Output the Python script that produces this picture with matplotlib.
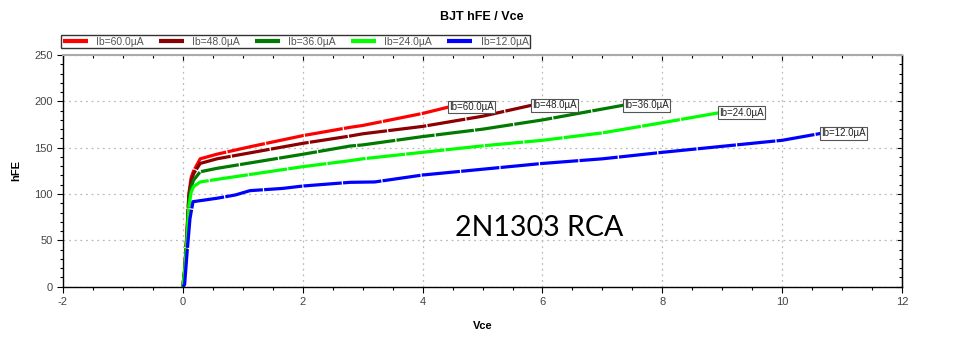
import matplotlib.pyplot as plt
from matplotlib.ticker import MultipleLocator

# Data (Vce in V, hFE)
vce_60 = [0, 0.03, 0.07, 0.1, 0.14, 0.18, 0.29, 0.57, 1.12, 2.0, 2.79, 3.0, 4.0, 4.44]
hfe_60 = [0, 18, 60, 100, 118, 125, 138, 143, 151, 163, 172, 174, 187, 194]

vce_48 = [0, 0.03, 0.07, 0.1, 0.14, 0.18, 0.29, 0.57, 2.0, 2.79, 3.0, 4.0, 5.0, 5.83]
hfe_48 = [0, 17, 58, 97, 114, 122, 133, 138, 154.7, 162.6, 165, 173, 184, 196]

vce_36 = [0, 0.03, 0.07, 0.1, 0.14, 0.18, 0.29, 0.57, 2.0, 2.79, 3.0, 4.0, 5.0, 6.0, 7.36]
hfe_36 = [0, 17, 55, 92, 108, 115, 124, 127.7, 142.9, 151.8, 153, 162, 170, 180, 196]

vce_24 = [0, 0.03, 0.07, 0.1, 0.14, 0.18, 0.29, 0.57, 2.0, 2.79, 3.0, 4.0, 5.0, 6.0, 7.0, 8.0, 8.95]
hfe_24 = [0, 16, 50, 86, 102, 108, 113, 115.8, 129.5, 136, 138, 145, 152, 158, 166, 177, 187.8]

vce_12 = [0, 0.03, 0.07, 0.12, 0.17, 0.57, 0.88, 1.12, 1.66, 2.0, 2.79, 3.2, 4.0, 6.0, 7.0, 8.0, 10.0, 10.65]
hfe_12 = [0, 2, 36, 73.7, 91.7, 95.4, 99, 103.6, 106, 108.6, 112.6, 113, 120.5, 133, 138, 145, 158, 165.5]

series = [
    ('Ib=60.0µA', vce_60, hfe_60, '#ff0000'),
    ('Ib=48.0µA', vce_48, hfe_48, '#8b0000'),
    ('Ib=36.0µA', vce_36, hfe_36, '#007a00'),
    ('Ib=24.0µA', vce_24, hfe_24, '#00ff00'),
    ('Ib=12.0µA', vce_12, hfe_12, '#0000ff'),
]

plt.rcParams['font.family'] = ['Liberation Sans', 'DejaVu Sans']
plt.rcParams['axes.unicode_minus'] = False

fig = plt.figure(figsize=(9.68, 3.51), dpi=100)
ax = fig.add_axes([0.065, 0.1835, 0.867, 0.6595])

for label, x, y, color in series:
    ax.plot(x, y, color=color, lw=2.3, ls=(0, (12, 0.4)), label=label,
            solid_capstyle='butt', dash_capstyle='butt', solid_joinstyle='round')
    ax.annotate(label, (x[-1], y[-1]), xytext=(0, 0), textcoords='offset points',
                ha='left', va='center', fontsize=7, color='#222222',
                bbox=dict(boxstyle='square,pad=0.15', fc='white', ec='#555555', lw=0.8))

ax.set_xlim(-2, 12)
ax.set_ylim(0, 250)
ax.xaxis.set_major_locator(MultipleLocator(2))
ax.xaxis.set_minor_locator(MultipleLocator(0.5))
ax.yaxis.set_major_locator(MultipleLocator(50))
ax.yaxis.set_minor_locator(MultipleLocator(10))
ax.tick_params(axis='both', which='major', labelsize=8, labelcolor='#444444', length=4, width=0.8)
ax.tick_params(axis='both', which='minor', length=2.5, width=0.8)
ax.tick_params(axis='x', which='both', direction='out')
ax.tick_params(axis='y', which='both', direction='out')

# inward ticks on top and right sides
top = ax.secondary_xaxis('top')
top.xaxis.set_major_locator(MultipleLocator(2))
top.xaxis.set_minor_locator(MultipleLocator(0.5))
top.tick_params(which='both', direction='in', labeltop=False, width=0.8)
top.tick_params(which='major', length=4)
top.tick_params(which='minor', length=2.5)
top.spines['top'].set_visible(False)
right = ax.secondary_yaxis('right')
right.yaxis.set_major_locator(MultipleLocator(50))
right.yaxis.set_minor_locator(MultipleLocator(10))
right.tick_params(which='both', direction='in', labelright=False, width=0.8)
right.tick_params(which='major', length=4)
right.tick_params(which='minor', length=2.5)
right.spines['right'].set_color('black')

ax.grid(True, which='major', color='#bbbbbb', ls=(0, (1.5, 3)), lw=0.9)

for s in ['left', 'bottom', 'right']:
    ax.spines[s].set_color('black')
    ax.spines[s].set_linewidth(1.0)
ax.spines['top'].set_color('#aaaaaa')
ax.spines['top'].set_linestyle((0, (2, 1)))
ax.spines['top'].set_linewidth(1.5)

ax.set_xlabel('Vce', fontsize=8, fontweight='bold', labelpad=10)
ax.set_ylabel('hFE', fontsize=8, fontweight='bold', labelpad=9)
fig.suptitle('BJT hFE / Vce', x=0.498, y=0.97, fontsize=9, fontweight='bold')

ax.text(5.95, 63, '2N1303 RCA', fontsize=20.5, family=['Lato', 'DejaVu Sans'],
        ha='center', va='center', color='black')

leg = ax.legend(loc='lower left', bbox_to_anchor=(-0.002, 1.03), ncol=5, fontsize=7.5,
                frameon=True, fancybox=False, edgecolor='black', borderpad=0.15,
                handlelength=2.4, handletextpad=0.8, columnspacing=1.45, borderaxespad=0)
leg.get_frame().set_linewidth(1.0)
for t in leg.get_texts():
    t.set_color('#555555')
for h in leg.get_lines():
    h.set_linestyle('-')
    h.set_linewidth(3)

fig.savefig('out.png', dpi=100)
